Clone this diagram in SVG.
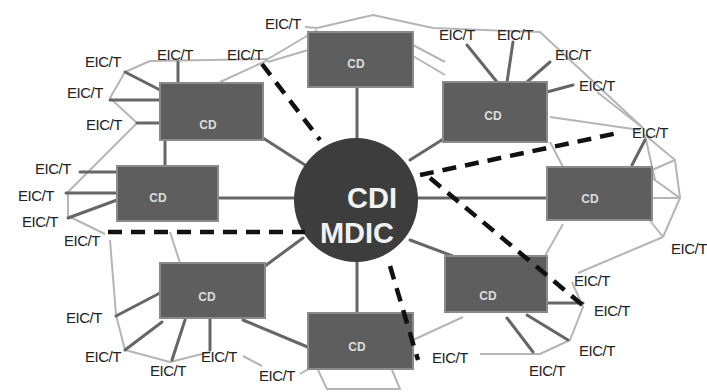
<svg xmlns="http://www.w3.org/2000/svg" width="707" height="392" viewBox="0 0 707 392">
<style>
.d{stroke:#666;stroke-width:3;fill:none;stroke-linecap:round}
.l{stroke:#b5b5b5;stroke-width:2;fill:none;stroke-linejoin:round}
.k{stroke:#111;stroke-width:4.5;fill:none;stroke-dasharray:14 9}
.box{fill:#5e5e5e;stroke:#8a8a8a;stroke-width:2}
.cd{font-family:"Liberation Sans",Arial,sans-serif;font-size:12px;font-weight:bold;fill:#ddd;text-anchor:middle}
.e{font-family:"Liberation Sans",Arial,sans-serif;font-size:15px;fill:#222;text-anchor:middle;letter-spacing:-0.5px}
.hub{font-family:"Liberation Sans",Arial,sans-serif;font-size:29px;font-weight:bold;fill:#f2f2f2;text-anchor:middle}
</style>
<rect width="707" height="392" fill="#fff"/>
<g id="connectors">
<polyline class="l" points="125,72 150,61 268,59"/>
<line class="l" x1="268" y1="59" x2="317" y2="30"/>
<line class="l" x1="268" y1="62" x2="308" y2="50"/>
<line class="l" x1="220" y1="82" x2="268" y2="60"/>
<polyline class="l" points="305,27 317,28 373,15 433,28 540,32 643,128"/>
<line class="l" x1="413" y1="45" x2="445" y2="62"/>
<line class="l" x1="413" y1="56" x2="445" y2="75"/>
<line class="l" x1="597" y1="92" x2="643" y2="128"/>
<line class="l" x1="550" y1="117" x2="640" y2="130"/>
<polyline class="l" points="645,135 675,160 680,198 663,237"/>
<line class="l" x1="652" y1="170" x2="675" y2="160"/>
<line class="l" x1="652" y1="198" x2="680" y2="198"/>
<line class="l" x1="652" y1="178" x2="680" y2="198"/>
<line class="l" x1="648" y1="218" x2="663" y2="237"/>
<line class="l" x1="645" y1="135" x2="655" y2="180"/>
<line class="l" x1="663" y1="237" x2="578" y2="273"/>
<line class="l" x1="545" y1="256" x2="563" y2="224"/>
<line class="l" x1="550" y1="142" x2="563" y2="167"/>
<polyline class="l" points="125,72 110,98 137,123 68,192 68,216 105,234"/>
<polyline class="l" points="110,240 116,315 125,350 170,362 210,352"/>
<line class="l" x1="243" y1="356" x2="262" y2="366"/>
<line class="l" x1="170" y1="232" x2="180" y2="263"/>
<line class="l" x1="300" y1="374" x2="310" y2="368"/>
<polyline class="l" points="318,370 327,389 400,389 392,370"/>
<polyline class="l" points="480,354 540,354 570,340 583,307 572,282"/>
<line class="l" x1="463" y1="317" x2="413" y2="340"/>
<line class="d" x1="357" y1="88" x2="357" y2="140"/>
<line class="d" x1="357" y1="260" x2="357" y2="313"/>
<line class="d" x1="218" y1="198" x2="295" y2="198"/>
<line class="d" x1="417" y1="198" x2="547" y2="198"/>
<line class="d" x1="263" y1="138" x2="305" y2="165"/>
<line class="d" x1="445" y1="138" x2="410" y2="160"/>
<line class="d" x1="265" y1="266" x2="303" y2="238"/>
<line class="d" x1="458" y1="258" x2="410" y2="240"/>
<line class="d" x1="165" y1="140" x2="165" y2="165"/>
<line class="d" x1="243" y1="320" x2="310" y2="348"/>
<line class="d" x1="178" y1="62" x2="178" y2="83"/>
<line class="d" x1="125" y1="72" x2="160" y2="90"/>
<line class="d" x1="110" y1="100" x2="160" y2="100"/>
<line class="d" x1="137" y1="123" x2="160" y2="123"/>
<line class="d" x1="80" y1="172" x2="117" y2="172"/>
<line class="d" x1="66" y1="193" x2="117" y2="193"/>
<line class="d" x1="68" y1="218" x2="117" y2="200"/>
<line class="d" x1="116" y1="316" x2="160" y2="293"/>
<line class="d" x1="125" y1="350" x2="162" y2="322"/>
<line class="d" x1="172" y1="360" x2="185" y2="320"/>
<line class="d" x1="210" y1="318" x2="210" y2="350"/>
<line class="d" x1="507" y1="318" x2="533" y2="352"/>
<line class="d" x1="527" y1="315" x2="568" y2="340"/>
<line class="d" x1="547" y1="303" x2="583" y2="303"/>
<line class="d" x1="497" y1="82" x2="467" y2="45"/>
<line class="d" x1="507" y1="82" x2="513" y2="42"/>
<line class="d" x1="527" y1="82" x2="550" y2="62"/>
<line class="d" x1="547" y1="92" x2="573" y2="85"/>
<line class="d" x1="632" y1="165" x2="645" y2="140"/>
</g>
<g id="boxes">
<g id="cd-top"><rect class="box" x="308" y="32" width="105" height="55"/><text class="cd" x="356" y="68">CD</text></g>
<g id="cd-ul"><rect class="box" x="160" y="83" width="103" height="57"/><text class="cd" x="208" y="129">CD</text></g>
<g id="cd-ur"><rect class="box" x="443" y="82" width="104" height="60"/><text class="cd" x="493" y="120">CD</text></g>
<g id="cd-left"><rect class="box" x="117" y="166" width="101" height="55"/><text class="cd" x="158" y="202">CD</text></g>
<g id="cd-right"><rect class="box" x="547" y="167" width="105" height="53"/><text class="cd" x="590" y="203">CD</text></g>
<g id="cd-ll"><rect class="box" x="160" y="263" width="105" height="55"/><text class="cd" x="207" y="301">CD</text></g>
<g id="cd-lr"><rect class="box" x="445" y="256" width="102" height="56"/><text class="cd" x="488" y="300">CD</text></g>
<g id="cd-bottom"><rect class="box" x="308" y="313" width="105" height="56"/><text class="cd" x="357" y="351">CD</text></g>
</g>
<g id="hub">
<circle cx="356" cy="200" r="62" fill="#3d3d3d"/>
<text class="hub" x="372" y="208">CDI</text>
<text class="hub" x="357" y="243">MDIC</text>
</g>
<g id="dashed">
<line class="k" x1="262" y1="64" x2="320" y2="140"/>
<line class="k" x1="420" y1="175" x2="618" y2="133"/>
<line class="k" x1="430" y1="178" x2="585" y2="307"/>
<line class="k" x1="108" y1="232" x2="305" y2="232"/>
<line class="k" x1="390" y1="266" x2="418" y2="360"/>
</g>
<g id="eict">
<g id="e1"><text class="e" x="103" y="67">EIC/T</text></g>
<g id="e2"><text class="e" x="175" y="60">EIC/T</text></g>
<g id="e3"><text class="e" x="245" y="60">EIC/T</text></g>
<g id="e4"><text class="e" x="85" y="98">EIC/T</text></g>
<g id="e5"><text class="e" x="104" y="130">EIC/T</text></g>
<g id="e6"><text class="e" x="53" y="174">EIC/T</text></g>
<g id="e7"><text class="e" x="36" y="201">EIC/T</text></g>
<g id="e8"><text class="e" x="40" y="227">EIC/T</text></g>
<g id="e9"><text class="e" x="82" y="246">EIC/T</text></g>
<g id="e10"><text class="e" x="283" y="29">EIC/T</text></g>
<g id="e11"><text class="e" x="457" y="40">EIC/T</text></g>
<g id="e12"><text class="e" x="515" y="40">EIC/T</text></g>
<g id="e13"><text class="e" x="573" y="60">EIC/T</text></g>
<g id="e14"><text class="e" x="597" y="91">EIC/T</text></g>
<g id="e15"><text class="e" x="650" y="138">EIC/T</text></g>
<g id="e16"><text class="e" x="689" y="254">EIC/T</text></g>
<g id="e17"><text class="e" x="592" y="286">EIC/T</text></g>
<g id="e18"><text class="e" x="612" y="316">EIC/T</text></g>
<g id="e19"><text class="e" x="597" y="356">EIC/T</text></g>
<g id="e20"><text class="e" x="547" y="376">EIC/T</text></g>
<g id="e21"><text class="e" x="450" y="363">EIC/T</text></g>
<g id="e22"><text class="e" x="84" y="323">EIC/T</text></g>
<g id="e23"><text class="e" x="103" y="362">EIC/T</text></g>
<g id="e24"><text class="e" x="168" y="376">EIC/T</text></g>
<g id="e25"><text class="e" x="219" y="362">EIC/T</text></g>
<g id="e26"><text class="e" x="277" y="381">EIC/T</text></g>
</g>
</svg>
